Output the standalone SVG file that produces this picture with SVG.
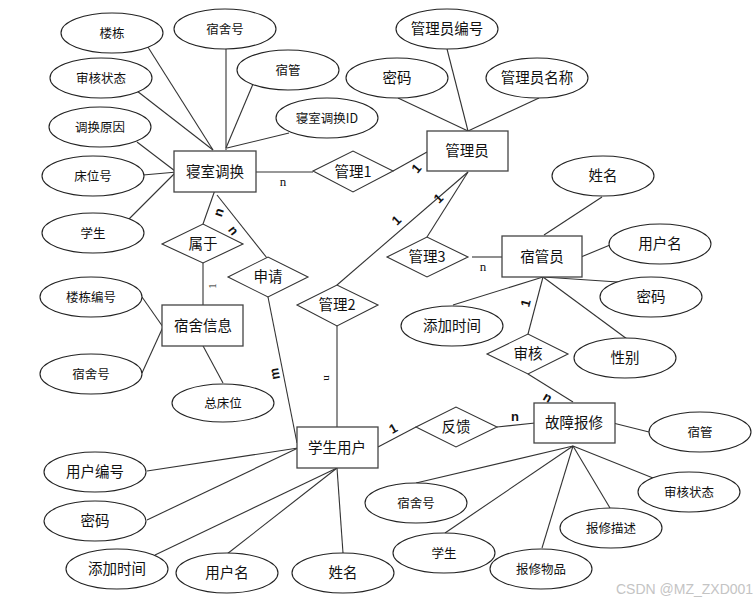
<svg xmlns="http://www.w3.org/2000/svg" width="755" height="603" viewBox="0 0 755 603">
<style>
.bg{fill:#fff}
.ent{fill:#fff;stroke:#444;stroke-width:1.3}
.att{fill:#fff;stroke:#222;stroke-width:1.1}
.rel{fill:#fff;stroke:#333;stroke-width:1.1}
.cn line{stroke:#333;stroke-width:1.1}
text{font-family:"Noto Sans CJK SC","Liberation Sans",sans-serif;fill:#111;text-anchor:middle}
.l{font-size:14.5px}
.s{font-size:12.5px}
.c{font-family:"Liberation Sans",sans-serif;font-weight:bold;font-size:13px}
.cs{font-family:"Liberation Serif",serif;font-size:13px}
.wm{font-family:"Liberation Sans",sans-serif;font-size:14px;fill:#c4c4c4;text-anchor:start}
</style>
<rect class="bg" x="0" y="0" width="755" height="603"/>
<g id="connectors" class="cn">
<line x1="146" y1="44" x2="213" y2="150"/>
<line x1="226" y1="49" x2="226" y2="150"/>
<line x1="253" y1="84" x2="226" y2="148"/>
<line x1="137" y1="91" x2="213" y2="150"/>
<line x1="289" y1="133" x2="227" y2="148"/>
<line x1="137" y1="142" x2="175" y2="171"/>
<line x1="143" y1="175" x2="177" y2="172"/>
<line x1="128" y1="220" x2="177" y2="171"/>
<line x1="256" y1="172" x2="313" y2="172"/>
<line x1="393" y1="171" x2="427" y2="152"/>
<line x1="447" y1="49" x2="468" y2="131"/>
<line x1="398" y1="98" x2="468" y2="131"/>
<line x1="539" y1="98" x2="468" y2="131"/>
<line x1="468" y1="172" x2="337" y2="285"/>
<line x1="468" y1="172" x2="427" y2="237"/>
<line x1="472" y1="257" x2="502" y2="257"/>
<line x1="602" y1="197" x2="544" y2="235"/>
<line x1="610" y1="245" x2="581" y2="257"/>
<line x1="543" y1="277" x2="618" y2="282"/>
<line x1="543" y1="277" x2="453" y2="305"/>
<line x1="543" y1="277" x2="528" y2="334"/>
<line x1="543" y1="277" x2="627" y2="339"/>
<line x1="528" y1="374" x2="573" y2="402"/>
<line x1="215" y1="190" x2="203" y2="224"/>
<line x1="217" y1="195" x2="267" y2="258"/>
<line x1="203" y1="263" x2="203" y2="305"/>
<line x1="142" y1="297" x2="163" y2="327"/>
<line x1="142" y1="373" x2="163" y2="327"/>
<line x1="202" y1="344" x2="223" y2="383"/>
<line x1="268" y1="297" x2="297" y2="443"/>
<line x1="337" y1="326" x2="337" y2="427"/>
<line x1="147" y1="471" x2="298" y2="448"/>
<line x1="147" y1="520" x2="298" y2="448"/>
<line x1="155" y1="555" x2="337" y2="468"/>
<line x1="227" y1="554" x2="337" y2="468"/>
<line x1="343" y1="553" x2="337" y2="468"/>
<line x1="378" y1="447" x2="416" y2="427"/>
<line x1="497" y1="427" x2="535" y2="423"/>
<line x1="613" y1="423" x2="649" y2="432"/>
<line x1="573" y1="446" x2="416" y2="483"/>
<line x1="573" y1="446" x2="445" y2="533"/>
<line x1="573" y1="446" x2="542" y2="548"/>
<line x1="573" y1="446" x2="610" y2="508"/>
<line x1="573" y1="446" x2="653" y2="478"/>
</g>
<g id="cardinality">
<text class="cs" x="283" y="186">n</text>
<text class="cs" x="483" y="271">n</text>
<text class="c" transform="translate(416,168) rotate(-50)" y="5">1</text>
<text class="c" transform="translate(438,198) rotate(-45)" y="5">1</text>
<text class="c" transform="translate(396,220) rotate(-45)" y="5">1</text>
<text class="c" transform="translate(218,212) rotate(-71)" y="5">n</text>
<text class="c" transform="translate(234,230) rotate(52)" y="5">n</text>
<text class="cs" transform="translate(212,286) rotate(-90)" y="4" style="font-size:11px">1</text>
<text class="c" transform="translate(274,374) rotate(-100)" y="5">m</text>
<text class="cs" transform="translate(328,378) rotate(90)" y="4" style="font-size:11px">n</text>
<text class="c" transform="translate(525,303) rotate(-75)" y="5">1</text>
<text class="c" transform="translate(548,397) rotate(30)" y="5">n</text>
<text class="c" transform="translate(393,428) rotate(-30)" y="5">1</text>
<text class="c" x="515" y="421">n</text>
</g>
<g id="n_loudong"><ellipse class="att" cx="112" cy="33" rx="51" ry="20"/><text class="s" x="112" y="38">楼栋</text></g>
<g id="n_sushehao1"><ellipse class="att" cx="225" cy="29" rx="51" ry="20"/><text class="s" x="225" y="34">宿舍号</text></g>
<g id="n_suguan1"><ellipse class="att" cx="288" cy="70" rx="51" ry="20"/><text class="s" x="288" y="75">宿管</text></g>
<g id="n_shenhezt1"><ellipse class="att" cx="101" cy="78" rx="51" ry="20"/><text class="s" x="101" y="83">审核状态</text></g>
<g id="n_qsdhid"><ellipse class="att" cx="327" cy="118" rx="51" ry="20"/><text class="s" x="327" y="123">寝室调换ID</text></g>
<g id="n_dhyy"><ellipse class="att" cx="100" cy="127" rx="51" ry="20"/><text class="s" x="100" y="132">调换原因</text></g>
<g id="n_chuangweihao"><ellipse class="att" cx="93" cy="176" rx="51" ry="20"/><text class="s" x="93" y="181">床位号</text></g>
<g id="n_xuesheng1"><ellipse class="att" cx="93" cy="233" rx="51" ry="20"/><text class="s" x="93" y="238">学生</text></g>
<g id="n_qinshidiaohuan"><rect class="ent" x="174" y="151" width="82" height="41"/><text class="l" x="215" y="177">寝室调换</text></g>
<g id="n_guanli1"><polygon class="rel" points="313,171 353,151 393,171 353,192"/><text class="l" x="353" y="177">管理1</text></g>
<g id="n_glybh"><ellipse class="att" cx="447" cy="29" rx="51" ry="20"/><text class="l" x="447" y="34">管理员编号</text></g>
<g id="n_mima1"><ellipse class="att" cx="397" cy="78" rx="51" ry="20"/><text class="l" x="397" y="83">密码</text></g>
<g id="n_glymc"><ellipse class="att" cx="537" cy="78" rx="51" ry="20"/><text class="l" x="537" y="83">管理员名称</text></g>
<g id="n_guanliyuan"><rect class="ent" x="427" y="131" width="81" height="40"/><text class="l" x="467" y="156">管理员</text></g>
<g id="n_xingming1"><ellipse class="att" cx="603" cy="176" rx="51" ry="20"/><text class="l" x="603" y="181">姓名</text></g>
<g id="n_yonghuming1"><ellipse class="att" cx="660" cy="244" rx="51" ry="20"/><text class="l" x="660" y="249">用户名</text></g>
<g id="n_guanli3"><polygon class="rel" points="387,257 427,237 468,257 427,277"/><text class="l" x="427" y="262">管理3</text></g>
<g id="n_suguanyuan"><rect class="ent" x="502" y="236" width="80" height="41"/><text class="l" x="542" y="262">宿管员</text></g>
<g id="n_mima2"><ellipse class="att" cx="651" cy="297" rx="51" ry="20"/><text class="l" x="651" y="302">密码</text></g>
<g id="n_tianjia1"><ellipse class="att" cx="452" cy="326" rx="51" ry="20"/><text class="l" x="452" y="331">添加时间</text></g>
<g id="n_xingbie"><ellipse class="att" cx="625" cy="358" rx="51" ry="20"/><text class="l" x="625" y="363">性别</text></g>
<g id="n_shenhe"><polygon class="rel" points="487,354 528,334 568,354 528,374"/><text class="l" x="528" y="359">审核</text></g>
<g id="n_shuyu"><polygon class="rel" points="162,244 203,224 243,244 203,263"/><text class="l" x="203" y="249">属于</text></g>
<g id="n_shenqing"><polygon class="rel" points="228,277 268,257 308,277 268,297"/><text class="l" x="268" y="282">申请</text></g>
<g id="n_guanli2"><polygon class="rel" points="297,305 337,285 378,305 337,326"/><text class="l" x="337" y="310">管理2</text></g>
<g id="n_sushexinxi"><rect class="ent" x="162" y="305" width="81" height="41"/><text class="l" x="203" y="331">宿舍信息</text></g>
<g id="n_ldbh"><ellipse class="att" cx="91" cy="297" rx="51" ry="20"/><text class="s" x="91" y="302">楼栋编号</text></g>
<g id="n_sushehao2"><ellipse class="att" cx="91" cy="374" rx="51" ry="20"/><text class="s" x="91" y="379">宿舍号</text></g>
<g id="n_zongchuangwei"><ellipse class="att" cx="223" cy="403" rx="51" ry="19"/><text class="s" x="223" y="408">总床位</text></g>
<g id="n_xueshengyonghu"><rect class="ent" x="297" y="427" width="81" height="41"/><text class="l" x="337" y="453">学生用户</text></g>
<g id="n_fankui"><polygon class="rel" points="416,427 456,407 497,427 456,447"/><text class="l" x="456" y="432">反馈</text></g>
<g id="n_guzhangbaoxiu"><rect class="ent" x="534" y="403" width="81" height="40"/><text class="l" x="574" y="428">故障报修</text></g>
<g id="n_suguan2"><ellipse class="att" cx="700" cy="432" rx="51" ry="20"/><text class="s" x="700" y="437">宿管</text></g>
<g id="n_sushehao3"><ellipse class="att" cx="416" cy="503" rx="51" ry="20"/><text class="s" x="416" y="508">宿舍号</text></g>
<g id="n_xuesheng2"><ellipse class="att" cx="444" cy="553" rx="51" ry="20"/><text class="s" x="444" y="558">学生</text></g>
<g id="n_baoxiuwupin"><ellipse class="att" cx="541" cy="569" rx="51" ry="20"/><text class="s" x="541" y="574">报修物品</text></g>
<g id="n_baoxiumiaoshu"><ellipse class="att" cx="611" cy="528" rx="51" ry="20"/><text class="s" x="611" y="533">报修描述</text></g>
<g id="n_shenhezt2"><ellipse class="att" cx="689" cy="492" rx="51" ry="20"/><text class="s" x="689" y="497">审核状态</text></g>
<g id="n_yhbh"><ellipse class="att" cx="95" cy="472" rx="51" ry="20"/><text class="l" x="95" y="477">用户编号</text></g>
<g id="n_mima3"><ellipse class="att" cx="95" cy="521" rx="51" ry="20"/><text class="l" x="95" y="526">密码</text></g>
<g id="n_tianjia2"><ellipse class="att" cx="117" cy="569" rx="51" ry="20"/><text class="l" x="117" y="574">添加时间</text></g>
<g id="n_yonghuming2"><ellipse class="att" cx="227" cy="573" rx="51" ry="20"/><text class="l" x="227" y="578">用户名</text></g>
<g id="n_xingming2"><ellipse class="att" cx="343" cy="573" rx="51" ry="20"/><text class="l" x="343" y="578">姓名</text></g>
<text class="wm" x="616" y="594">CSDN @MZ_ZXD001</text>
</svg>
